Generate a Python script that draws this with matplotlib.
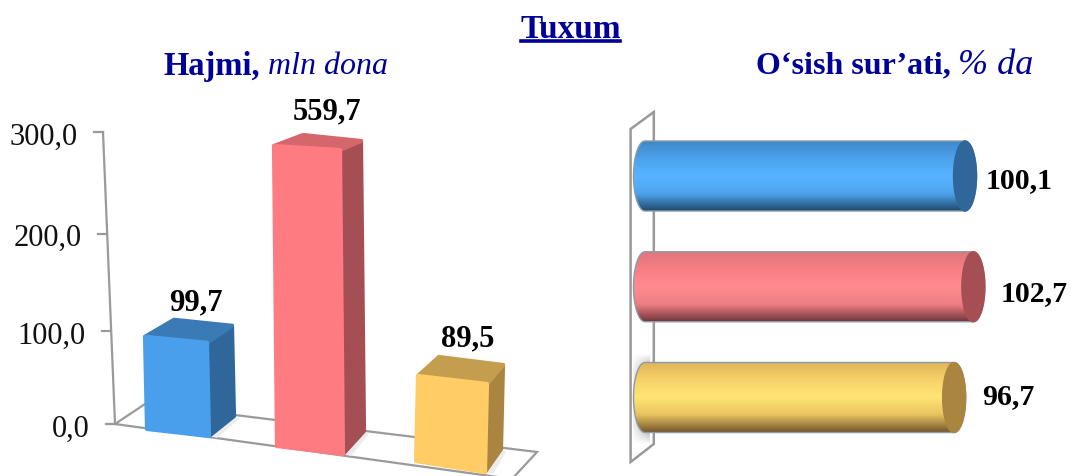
import matplotlib
matplotlib.use("Agg")
import matplotlib.pyplot as plt
import numpy as np
from matplotlib.colors import LinearSegmentedColormap, to_rgb
from matplotlib.patches import Polygon

W, H = 1071, 477
SERIF = ["Liberation Serif", "DejaVu Serif"]
NAVY = "#000099"
GREY = "#9a9a9a"

# values
volume = [99.7, 559.7, 89.5]
volume_labels = ["99,7", "559,7", "89,5"]
growth = [100.1, 102.7, 96.7]
growth_labels = ["100,1", "102,7", "96,7"]
y_ticks = [0, 100, 200, 300]
y_tick_labels = ["0,0", "100,0", "200,0", "300,0"]
y_max = 300

# colours: front, side, top
front_cols = ["#4A9FEC", "#FF7B82", "#FFCC66"]
side_cols = ["#30679B", "#A54F55", "#A98540"]
top_cols = ["#3A7BB5", "#D4666C", "#C49E4E"]
# cylinder shading top -> middle -> bottom
cyl_shades = [["#3F88CA", "#4CA2EC", "#58B4FF", "#4EA4EE", "#1F4A6C"],
              ["#E0757B", "#F87F85", "#FF8B90", "#EE7E84", "#6E3437"],
              ["#E0B458", "#F6D268", "#FFE575", "#E8C460", "#75592C"]]

# 3d layout of the left chart, in pixels
bar_left = [147, 277, 416]
bar_w = [62, 66, 69]
bar_base = [5, 22, 37]        # drop of the front-left foot below the wall foot
bar_scale = [0.925, 1.0, 0.95]
bar_lean = [-2, -3, 2]
foot_slope = [7, 8, 11]
head_slope = [6, 4, 8]
side_dx = [25, 21, 16]
side_dy_top = [17, 9, 19]
side_dy_low = [20, 23, 23]
back_dx = [29, 29, 21]
back_dy = [17, 11, 19]
label_x = [196, 327, 468]
label_gap = [35, 35, 38]


def wall_height(v):
    # the wall is drawn in perspective so ticks are not quite even
    return 0.908 * v + 2.17e-4 * v ** 2


def wall_x(v):
    return 115 - 12 * v / y_max


def rounded(ax, pts, col, z):
    # thick round joined edge fakes the bevelled corners
    ax.add_patch(Polygon(pts, facecolor=col, edgecolor=col, lw=3, joinstyle="round", zorder=z))


def draw_left(ax):
    ax.set_xlim(0, 540)
    ax.set_ylim(-52, 335)
    ax.axis("off")

    # floor
    floor = Polygon([(115, 0), (145, 20), (537, -28), (512, -55)], closed=True,
                    fill=False, edgecolor=GREY, linewidth=1.6, zorder=1, clip_on=False)
    ax.add_patch(floor)
    # wall + ticks
    vs = np.array([0, y_max])
    ax.plot(wall_x(vs), wall_height(vs), color=GREY, lw=1.6, zorder=1)
    for v, lab in zip(y_ticks, y_tick_labels):
        x, y = wall_x(v), wall_height(v)
        ax.plot([x - 9.5, x], [y, y], color=GREY, lw=1.6, zorder=1)
        ax.text(x - 25, y - 4, lab, ha="right", va="center", fontsize=22,
                family=SERIF, color="#111111")

    for i, v in enumerate(volume):
        h = min(v, y_max) * bar_scale[i]
        xl = bar_left[i]
        xr = xl + bar_w[i]
        y0 = -bar_base[i]
        y1 = y0 + h
        bl = (xl, y0)
        br = (xr, y0 - foot_slope[i])
        tl = (xl + bar_lean[i], y1)
        tr = (xr + bar_lean[i], y1 - head_slope[i])
        sb = (br[0] + side_dx[i], br[1] + side_dy_low[i])
        st = (tr[0] + side_dx[i], tr[1] + side_dy_top[i])
        back = (tl[0] + back_dx[i], tl[1] + back_dy[i])

        # faint shadow on the floor
        ax.add_patch(Polygon([br, sb, (sb[0] + 5, sb[1] - 3), (br[0] + 8, br[1] - 2)],
                             facecolor="#ececec", edgecolor="none", zorder=2))
        rounded(ax, [br, tr, st, sb], side_cols[i], 3)
        rounded(ax, [tl, back, st, tr], top_cols[i], 3)
        rounded(ax, [bl, tl, tr, br], front_cols[i], 4)
        ax.text(label_x[i], y1 + label_gap[i], volume_labels[i], ha="center", va="center",
                fontsize=22, fontweight="bold", family=SERIF, color="black", zorder=5)


def draw_right(ax):
    px = 3.197            # pixels per percent
    zero = 645 - 610
    spacing = 110.75
    half = 35 / spacing          # half height of a cylinder
    cap = 11.5 / px              # half width of the end caps
    xlim = (-zero / px, (461 - zero) / px)
    ylim = ((477 - 177) / spacing, (90 - 177) / spacing)
    ax.axis("off")

    # back wall
    wall = Polygon([(-14.4 / px, -47 / spacing), (8.8 / px, -64 / spacing),
                    (8.8 / px, 268 / spacing), (-14.4 / px, 286 / spacing)],
                   closed=True, fill=False, edgecolor=GREY, linewidth=1.8, zorder=1)
    ax.add_patch(wall)

    # smudge behind the foot of the last bar, feathered on the outside
    smudge = np.zeros((64, 32, 4))
    smudge[..., :3] = to_rgb("#777777")
    vert = np.clip(np.sin(np.linspace(0, np.pi, 64)) * 1.6, 0, 1)
    horiz = np.linspace(0.1, 0.75, 32)
    smudge[..., 3] = np.outer(vert, horiz)
    ax.imshow(smudge, aspect="auto", zorder=1.5, interpolation="bilinear",
              extent=[-12 / px, 5 / px, 2 + 48 / spacing, 2 - 44 / spacing])

    t = np.linspace(-np.pi / 2, np.pi / 2, 60)
    for i, v in enumerate(growth):
        # outline of body with a rounded left end and rounded right end
        xs = np.concatenate([v + cap * np.cos(t), -cap * np.cos(t[::-1])])
        ys = np.concatenate([i + half * np.sin(t), i + half * np.sin(t[::-1])])
        body = Polygon(np.column_stack([xs, ys]), closed=True, facecolor="none",
                       edgecolor="#8f9aa6", lw=1.0, zorder=2.5)
        ax.add_patch(body)
        cmap = LinearSegmentedColormap.from_list("c%d" % i, cyl_shades[i])
        grad = np.linspace(0, 1, 128).reshape(-1, 1)
        im = ax.imshow(grad, cmap=cmap, aspect="auto", zorder=2,
                       extent=[-cap, v + cap, i + half, i - half], interpolation="bilinear")
        im.set_clip_path(body)
        # right end cap
        ax.fill(v + cap * np.cos(2 * t), i + half * np.sin(2 * t), color=side_cols[i], zorder=3)

    ax.set_xlim(*xlim)
    ax.set_ylim(*ylim)
    gaps = [21, 27, 28]
    drops = [4, 6, -2]
    for i, v in enumerate(growth):
        ax.text(v + gaps[i] / px, i + drops[i] / spacing, growth_labels[i], ha="left", va="center",
                fontsize=21.5, fontweight="bold", family=SERIF, color="black", zorder=5)


fig = plt.figure(figsize=(W / 100, H / 100), dpi=100)
fig.patch.set_facecolor("white")
ax1 = fig.add_axes([0, 0, 540 / W, 387 / H])
ax2 = fig.add_axes([610 / W, 0, 461 / W, 387 / H])
draw_left(ax1)
draw_right(ax2)


def fig_text(x, y, s, **kw):
    fig.text(x / W, 1 - y / H, s, family=SERIF, color=NAVY, va="center", **kw)


fig_text(570.5, 29, "Tuxum", ha="center", fontsize=24, fontweight="bold")
fig.add_artist(plt.Line2D([521 / W, 620 / W], [1 - 42 / H] * 2, color=NAVY, lw=2.6))
fig_text(164, 66, "Hajmi,", ha="left", fontsize=23.5, fontweight="bold")
fig_text(388, 66, "mln dona", ha="right", fontsize=23, style="italic")
fig_text(756, 66, "O‘sish sur’ati,", ha="left", fontsize=23, fontweight="bold")
fig_text(958, 66, "% da", ha="left", fontsize=26, style="italic")

fig.savefig("out.png", dpi=100)
